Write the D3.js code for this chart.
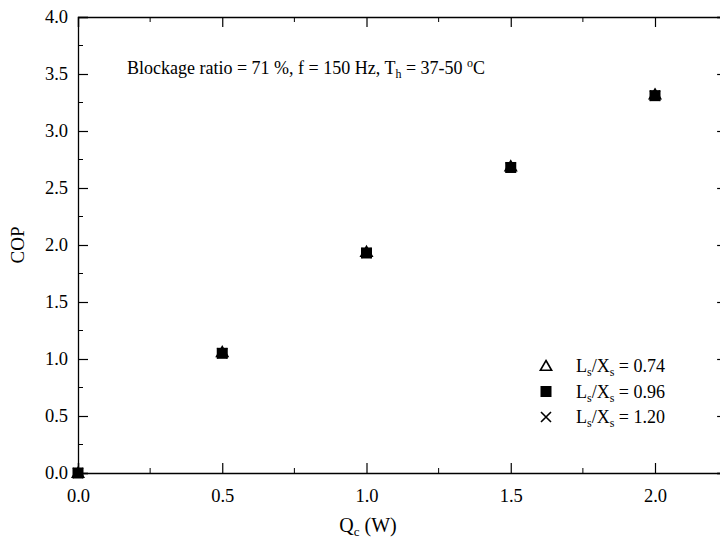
<!DOCTYPE html>
<html lang="en">
<head>
  <meta charset="utf-8">
  <title>COP vs Qc</title>
  <script src="https://d3js.org/d3.v7.min.js"></script>
  <style>
    body { margin: 0; background: #fff; }
    text { font-family: "Liberation Serif", "Times New Roman", serif; fill: #000; }
  </style>
</head>
<body>
<script type="text/javascript">

  // Data
  var qc = [0.0, 0.5, 1.0, 1.5, 2.0];
  var cop074 = [0.0, 1.06, 1.94, 2.69, 3.32];
  var cop096 = [0.0, 1.05, 1.93, 2.68, 3.31];
  var cop120 = [0.0, 1.05, 1.93, 2.68, 3.31];
  var seriesNames = ["0.74", "0.96", "1.20"];
  var xTicks = [0.0, 0.5, 1.0, 1.5, 2.0];
  var yTicks = [0.0, 0.5, 1.0, 1.5, 2.0, 2.5, 3.0, 3.5, 4.0];

  var svg_width = 720, svg_height = 542;
  var plotLeft = 78, plotTop = 17, plotBottom = 473;

  var svg = d3.select("body").append("svg")
              .attr("width", svg_width)
              .attr("height", svg_height);

  var xScale = d3.scaleLinear().domain([0, 2.25]).range([plotLeft, plotLeft + 2.25 * 288.5]);
  var yScale = d3.scaleLinear().domain([0, 4]).range([plotBottom, plotTop]);
  var plotRight = xScale(2.25);

  // minor ticks
  var xMinor = d3.range(0.25, 2.26, 0.5);
  var yMinor = d3.range(0.25, 4, 0.5);

  // bottom and top axes, ticks inward
  var bottomAxis = d3.axisBottom(xScale).tickValues(xTicks).tickSize(-10)
                     .tickFormat(d3.format(".1f")).tickPadding(16);
  var gB = svg.append("g").attr("transform", "translate(0," + plotBottom + ")").call(bottomAxis);
  gB.append("g").selectAll("line").data(xMinor).enter().append("line")
    .attr("x1", xScale).attr("x2", xScale).attr("y1", 0).attr("y2", -5).attr("stroke", "#000");

  var topAxis = d3.axisTop(xScale).tickValues(xTicks).tickSize(-10).tickFormat("");
  var gT = svg.append("g").attr("transform", "translate(0," + plotTop + ")").call(topAxis);
  gT.append("g").selectAll("line").data(xMinor).enter().append("line")
    .attr("x1", xScale).attr("x2", xScale).attr("y1", 0).attr("y2", 5).attr("stroke", "#000");

  // left and right axes
  var leftAxis = d3.axisLeft(yScale).tickValues(yTicks).tickSize(-10)
                   .tickFormat(d3.format(".1f")).tickPadding(10);
  var gL = svg.append("g").attr("transform", "translate(" + plotLeft + ",0)").call(leftAxis);
  gL.append("g").selectAll("line").data(yMinor).enter().append("line")
    .attr("y1", yScale).attr("y2", yScale).attr("x1", 0).attr("x2", 5).attr("stroke", "#000");

  var rightAxis = d3.axisRight(yScale).tickValues(yTicks).tickSize(-10).tickFormat("");
  var gR = svg.append("g").attr("transform", "translate(" + plotRight + ",0)").call(rightAxis);
  gR.append("g").selectAll("line").data(yMinor).enter().append("line")
    .attr("y1", yScale).attr("y2", yScale).attr("x1", 0).attr("x2", -5).attr("stroke", "#000");

  svg.selectAll(".domain").attr("stroke", "#000").attr("stroke-width", 1.3);
  svg.selectAll(".tick line").attr("stroke", "#000").attr("stroke-width", 1.2);
  svg.selectAll(".tick text").style("font-family", "Liberation Serif").attr("font-size", 18.5);

  // axis titles
  var xt = svg.append("text").attr("x", 368).attr("y", 532).attr("text-anchor", "middle").attr("font-size", 20);
  xt.append("tspan").text("Q");
  xt.append("tspan").attr("font-size", 13).attr("dy", 4).text("c");
  xt.append("tspan").attr("dy", -4).text(" (W)");

  svg.append("text").attr("transform", "translate(24,245) rotate(-90)")
     .attr("text-anchor", "middle").attr("font-size", 19).text("COP");

  // annotation
  var ann = svg.append("text").attr("x", 127).attr("y", 74).attr("font-size", 18);
  ann.append("tspan").text("Blockage ratio = 71 %, f = 150 Hz, T");
  ann.append("tspan").attr("font-size", 12).attr("dy", 4).text("h");
  ann.append("tspan").attr("dy", -4).text(" = 37-50 ");
  ann.append("tspan").attr("font-size", 12).attr("dy", -7).text("o");
  ann.append("tspan").attr("dy", 7).text("C");

  // marker drawers
  function drawTri(g, x, y) {
    g.append("path").attr("d", d3.symbol().type(d3.symbolTriangle).size(55)())
     .attr("transform", "translate(" + x + "," + (y + 1) + ")")
     .attr("fill", "#fff").attr("stroke", "#000").attr("stroke-width", 1.6);
  }
  function drawSq(g, x, y) {
    g.append("rect").attr("x", x - 5.5).attr("y", y - 5.5).attr("width", 11).attr("height", 11)
     .attr("fill", "#000");
  }
  function drawX(g, x, y) {
    g.append("path").attr("d", "M-5,-5L5,5M-5,5L5,-5")
     .attr("transform", "translate(" + x + "," + y + ")")
     .attr("stroke", "#000").attr("stroke-width", 1.6).attr("fill", "none");
  }

  var pts = svg.append("g");
  qc.forEach(function(q, i) { drawTri(pts, xScale(q), yScale(cop074[i])); });
  qc.forEach(function(q, i) { drawX(pts, xScale(q), yScale(cop120[i])); });
  qc.forEach(function(q, i) { drawSq(pts, xScale(q), yScale(cop096[i])); });

  // legend
  var drawers = [drawTri, drawSq, drawX];
  var leg = svg.append("g");
  seriesNames.forEach(function(name, i) {
    var y = 366 + i * 25.5;
    drawers[i](leg, 546, y);
    var t = leg.append("text").attr("x", 576).attr("y", y + 6).attr("font-size", 18);
    t.append("tspan").text("L");
    t.append("tspan").attr("font-size", 12).attr("dy", 4).text("s");
    t.append("tspan").attr("dy", -4).text("/X");
    t.append("tspan").attr("font-size", 12).attr("dy", 4).text("s");
    t.append("tspan").attr("dy", -4).text(" = " + name);
  });

</script>
</body>
</html>
